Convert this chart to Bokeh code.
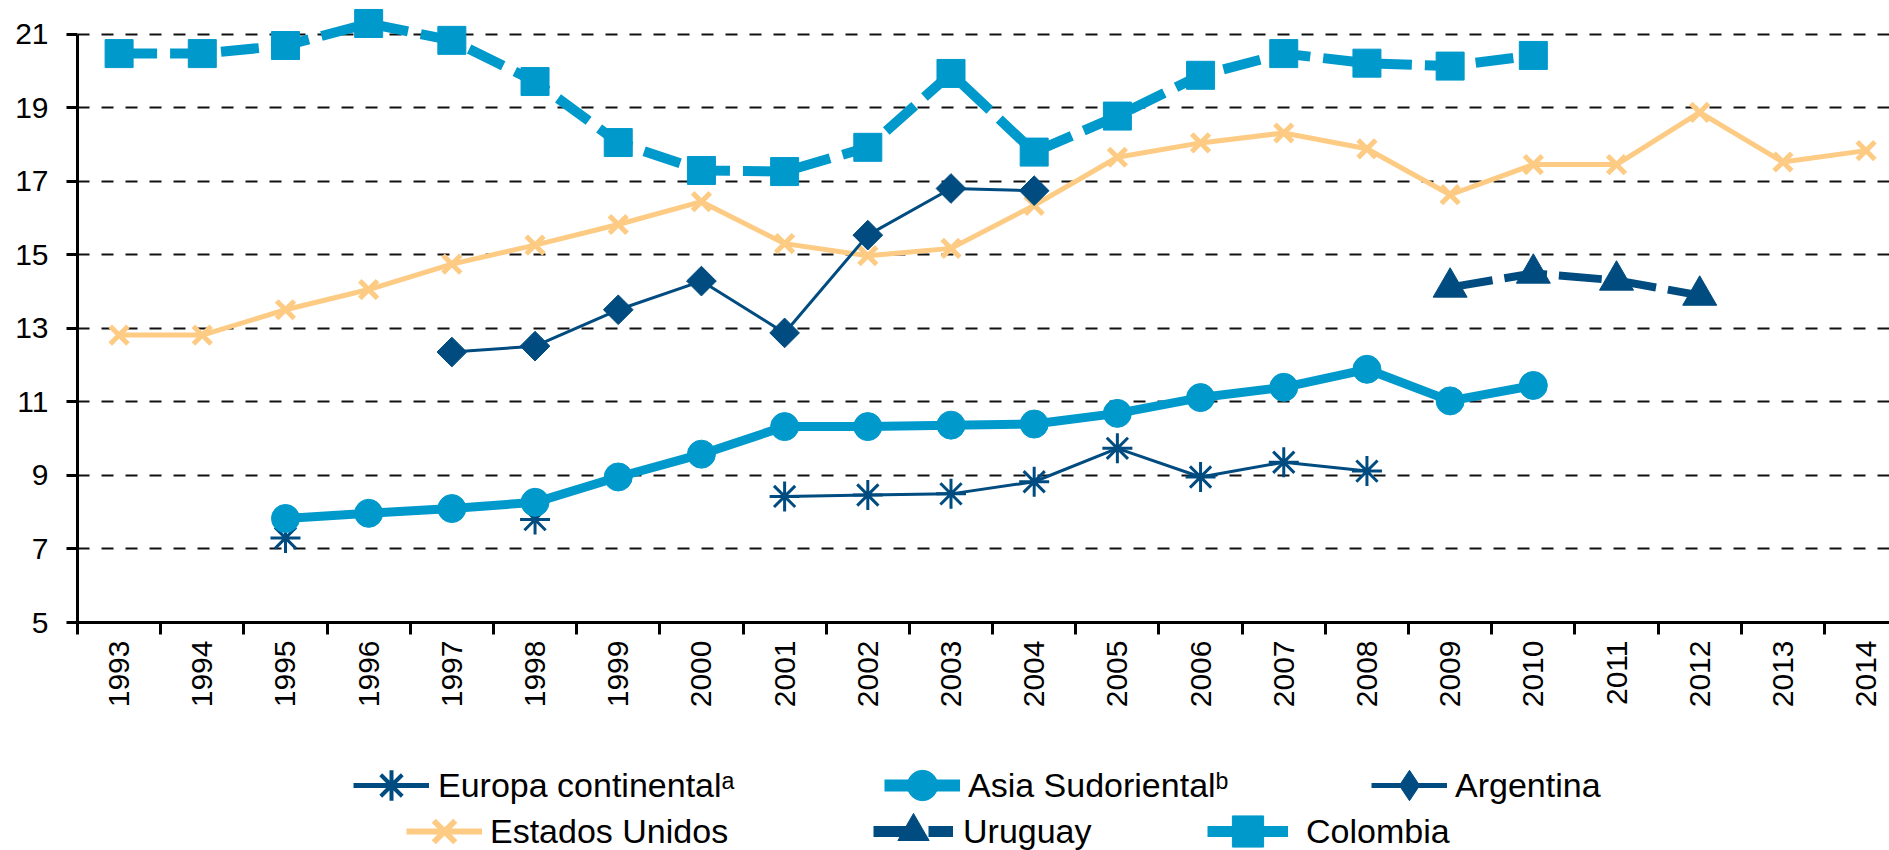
import math
from bokeh.plotting import figure
from bokeh.layouts import column
from bokeh.models import Range1d, FixedTicker, Legend, LegendItem
from bokeh.embed import file_html
from bokeh.resources import INLINE

nan = float("nan")

years = list(range(1993, 2015))
year_labels = [str(y) for y in years]
y_ticks = [5, 7, 9, 11, 13, 15, 17, 19, 21]

europa = [nan, nan, 7.3, nan, nan, 7.8, nan, nan, 8.43, 8.47, 8.5, 8.83,
          9.74, 8.96, 9.36, 9.12, nan, nan, nan, nan, nan, nan]
asia = [nan, nan, 7.83, 7.97, 8.1, 8.27, 8.96, 9.58, 10.33, 10.33, 10.37, 10.4,
        10.69, 11.12, 11.4, 11.89, 11.03, 11.45, nan, nan, nan, nan]
argentina = [nan, nan, nan, nan, 12.36, 12.52, 13.51, 14.29, 12.88, 15.54, 16.81, 16.75,
             nan, nan, nan, nan, nan, nan, nan, nan, nan, nan]
estados_unidos = [12.82, 12.82, 13.51, 14.06, 14.75, 15.27, 15.83, 16.45, 15.31, 14.98, 15.18, 16.35,
                  17.66, 18.05, 18.32, 17.89, 16.64, 17.46, 17.46, 18.88, 17.53, 17.84]
uruguay = [nan, nan, nan, nan, nan, nan, nan, nan, nan, nan, nan, nan,
           nan, nan, nan, nan, 14.12, 14.5, 14.31, 13.9, nan, nan]
colombia = [20.48, 20.48, 20.7, 21.3, 20.84, 19.72, 18.06, 17.3, 17.27, 17.93, 19.94, 17.8,
            18.78, 19.89, 20.48, 20.22, 20.14, 20.43, nan, nan, nan, nan]

LB = "#0099CC"
DB = "#004C80"
OR = "#FDCB83"
FONT = "Liberation Sans"
W = 1889
LEFT = 77

# ---------------- main chart ----------------
p = figure(width=W, height=735, title=None,
           x_range=Range1d(1992.5, 1992.5 + (W - LEFT) / 83.19), y_range=Range1d(5, 21.925),
           output_backend="svg", toolbar_location=None,
           min_border_left=LEFT, min_border_right=0, min_border_top=0, min_border_bottom=113)
p.outline_line_color = None
p.background_fill_color = "white"
p.border_fill_color = "white"

xa = p.xaxis[0]
xa.ticker = FixedTicker(ticks=years, minor_ticks=[y - 0.5 for y in years] + [years[-1] + 0.5])
xa.major_label_overrides = {y: s for y, s in zip(years, year_labels)}
xa.major_label_orientation = math.pi / 2
xa.major_tick_line_color = None
xa.major_tick_out = 12
xa.major_tick_in = 0
xa.minor_tick_line_color = "black"
xa.minor_tick_line_width = 3
xa.minor_tick_out = 12
xa.minor_tick_in = 0
xa.axis_line_width = 3
xa.axis_line_color = "black"
xa.major_label_standoff = 6
xa.major_label_text_font = FONT
xa.major_label_text_font_size = "30px"
xa.major_label_text_color = "black"

ya = p.yaxis[0]
ya.ticker = FixedTicker(ticks=y_ticks)
ya.bounds = (y_ticks[0], y_ticks[-1])
ya.major_tick_out = 11
ya.major_tick_in = 0
ya.major_tick_line_width = 3
ya.major_tick_line_color = "black"
ya.minor_tick_line_color = None
ya.axis_line_width = 3
ya.axis_line_color = "black"
ya.major_label_standoff = 18
ya.major_label_text_font = FONT
ya.major_label_text_font_size = "30px"
ya.major_label_text_color = "black"

p.xgrid.visible = False
p.ygrid.ticker = FixedTicker(ticks=y_ticks[1:])
p.ygrid.grid_line_color = "#111111"
p.ygrid.grid_line_width = 2
p.ygrid.grid_line_dash = "12 12"

styles = {
    "eu_l": dict(line_color=DB, line_width=3),
    "eu_m": dict(marker="asterisk", line_color=DB, line_width=3),
    "us_l": dict(line_color=OR, line_width=5),
    "us_m": dict(marker="x", line_color=OR, line_width=5),
    "ar_l": dict(line_color=DB, line_width=3),
    "ar_m": dict(marker="diamond", fill_color=DB, line_color=DB),
    "ur_l": dict(line_color=DB, line_width=8, line_dash="43 12"),
    "ur_m": dict(marker="triangle", fill_color=DB, line_color=DB),
    "as_l": dict(line_color=LB, line_width=9),
    "as_m": dict(marker="circle", fill_color=LB, line_color=LB),
    "co_l": dict(line_color=LB, line_width=10, line_dash="38 13"),
    "co_m": dict(marker="square", fill_color=LB, line_color=LB),
}

p.line(years, europa, **styles["eu_l"])
p.scatter(years, europa, size=30, **styles["eu_m"])
p.line(years, estados_unidos, **styles["us_l"])
p.scatter(years, estados_unidos, size=25, **styles["us_m"])
p.line(years, argentina, **styles["ar_l"])
p.scatter(years, argentina, marker="square", angle=math.pi / 4, size=21, fill_color=DB, line_color=DB)
p.line(years, uruguay, **styles["ur_l"])
p.scatter(years, uruguay, size=34, **styles["ur_m"])
p.line(years, asia, **styles["as_l"])
p.scatter(years, asia, size=28, **styles["as_m"])
p.line(years, colombia, **styles["co_l"])
p.scatter(years, colombia, size=28, **styles["co_m"])

# ---------------- legend strip ----------------
LH = 115
lg = figure(width=W, height=LH, title=None, x_range=Range1d(0, W - LEFT), y_range=Range1d(0, LH),
            output_backend="svg", toolbar_location=None,
            x_axis_location=None, y_axis_location=None,
            min_border_left=LEFT, min_border_right=0, min_border_top=0, min_border_bottom=0)
lg.outline_line_color = None
lg.grid.visible = False
lg.background_fill_color = "white"
lg.border_fill_color = "white"

# legend keys are drawn a little bolder, as in the reference
key_width = {"eu_l": 5, "eu_m": 4, "ar_l": 5, "us_l": 6, "us_m": 6,
             "as_l": 12, "ur_l": 11, "co_l": 11}


def keys(series, line_key, marker_key):
    # hidden copies of the series, used only to draw the legend keys
    ls = dict(styles[line_key])
    ms = dict(styles[marker_key])
    if line_key in key_width:
        ls["line_width"] = key_width[line_key]
    if marker_key in key_width:
        ms["line_width"] = key_width[marker_key]
    ln = lg.line(years, series, visible=False, **ls)
    mk = lg.scatter(years, series, visible=False, **ms)
    return [ln, mk]


H = 78
legend_specs = [
    ("Europa continentalᵃ", keys(europa, "eu_l", "eu_m"), 353, 50, 76, 9),
    ("Asia Sudorientalᵇ", keys(asia, "as_l", "as_m"), 884, 50, 76, 8),
    ("Argentina", keys(argentina, "ar_l", "ar_m"), 1371, 50, 76, 8),
    ("Estados Unidos", keys(estados_unidos, "us_l", "us_m"), 406, 96, 76, 8),
    ("Uruguay", keys(uruguay, "ur_l", "ur_m"), 873, 96, 80, 10),
    ("Colombia", keys(colombia, "co_l", "co_m"), 1207, 96, 81, 18),
]
for label, rends, px, cy, gw, st in legend_specs:
    leg = Legend(items=[LegendItem(label=label, renderers=rends)],
                 location=(px - LEFT, (LH - cy) - H / 2), orientation="horizontal",
                 glyph_width=gw, glyph_height=H, label_height=H,
                 padding=0, margin=0, spacing=0, label_standoff=st,
                 border_line_color=None, background_fill_alpha=0,
                 label_text_font=FONT, label_text_font_size="34px",
                 label_text_color="black")
    lg.add_layout(leg)

layout = column(p, lg, spacing=0)
open("out.html", "w").write(file_html(layout, INLINE))
